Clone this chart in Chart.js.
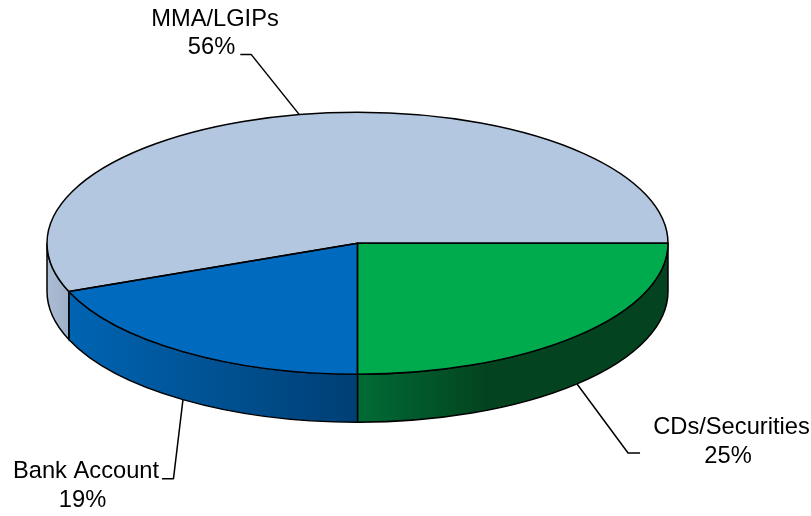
<!DOCTYPE html>
<html>
<head>
<meta charset="utf-8">
<style>
html,body{margin:0;padding:0;background:#fff}
#wrap{position:relative;width:811px;height:516px}
canvas{display:block}
</style>
<script src="https://cdn.jsdelivr.net/npm/chart.js@4"></script>
</head>
<body>
<div id="wrap"><canvas id="c" width="811" height="516"></canvas></div>
<script>
// Data
const categories = ['CDs/Securities', 'Bank Account', 'MMA/LGIPs'];
const shares = [25, 19, 56];

// Styles
const topColors = ['#00AB4E', '#006ABF', '#B3C7E0'];
const wallStops = [
  [[0, '#006C36'], [0.42, '#03431F'], [1, '#03431F']],
  [[0, '#0064B2'], [1, '#003F74']],
  [[0, '#ABBDD5'], [1, '#9FB0C8']]
];
const centerX = 357.5, centerY = 243.3, radiusX = 310.5, radiusY = 131, depth = 48;
const squash = radiusY / radiusX;
const edgeWidth = 1.5;
const leaderPaths = [
  {elbow: [51, 69], end: [63, 69]},
  {elbow: [-9.5, 79], end: [-21, 79]},
  {elbow: [-48, -60], end: [-59, -60]}
];
const labelSpots = [
  {x: 731.5, y1: 434, y2: 463},
  {x: 86, y1: 478, y2: 507},
  {x: 215, y1: 26, y2: 54}
];
const labelFont = '23.7px "Liberation Sans", Arial, sans-serif';

const fakePie3d = {
  id: 'fakePie3d',
  beforeDatasetsDraw(chart) {
    const ctx = chart.ctx;
    const arcs = chart.getDatasetMeta(0).data;
    arcs.forEach((arc, i) => {
      const a0 = Math.max(arc.startAngle, 0), a1 = Math.min(arc.endAngle, Math.PI);
      if (a1 <= a0) return;
      const xA = arc.x + radiusX * Math.cos(a0), xB = arc.x + radiusX * Math.cos(a1);
      const g = ctx.createLinearGradient(Math.min(xA, xB), 0, Math.max(xA, xB), 0);
      wallStops[i].forEach(s => g.addColorStop(s[0], s[1]));
      ctx.save();
      ctx.beginPath();
      ctx.ellipse(arc.x, arc.y, radiusX, radiusY, 0, a0, a1);
      ctx.ellipse(arc.x, arc.y + depth, radiusX, radiusY, 0, a1, a0, true);
      ctx.closePath();
      ctx.fillStyle = g;
      ctx.fill();
      ctx.strokeStyle = '#000';
      ctx.lineWidth = edgeWidth;
      ctx.stroke();
      ctx.restore();
    });
  },
  beforeDatasetDraw(chart) {
    const ctx = chart.ctx;
    const arc = chart.getDatasetMeta(0).data[0];
    ctx.save();
    ctx.translate(arc.x, arc.y);
    ctx.scale(1, squash);
    ctx.translate(-arc.x, -arc.y);
  },
  afterDatasetDraw(chart) {
    chart.ctx.restore();
  },
  afterDatasetsDraw(chart) {
    const ctx = chart.ctx;
    const arcs = chart.getDatasetMeta(0).data;
    ctx.save();
    ctx.strokeStyle = '#000';
    ctx.lineWidth = edgeWidth;
    ctx.lineJoin = 'round';
    arcs.forEach(arc => {
      ctx.beginPath();
      ctx.moveTo(arc.x, arc.y);
      ctx.ellipse(arc.x, arc.y, radiusX, radiusY, 0, arc.startAngle, arc.endAngle);
      ctx.closePath();
      ctx.stroke();
    });
    // Leader lines and labels
    arcs.forEach((arc, i) => {
      const mid = (arc.startAngle + arc.endAngle) / 2;
      const sx = arc.x + radiusX * Math.cos(mid);
      const sy = arc.y + radiusY * Math.sin(mid) + (Math.sin(mid) > 0 ? depth : 0);
      const p = leaderPaths[i];
      ctx.beginPath();
      ctx.moveTo(sx, sy);
      ctx.lineTo(sx + p.elbow[0], sy + p.elbow[1]);
      ctx.lineTo(sx + p.end[0], sy + p.end[1]);
      ctx.stroke();
      const spot = labelSpots[i];
      ctx.font = labelFont;
      ctx.fillStyle = '#000';
      ctx.textAlign = 'center';
      ctx.textBaseline = 'alphabetic';
      ctx.fillText(categories[i], spot.x, spot.y1);
      ctx.fillText(shares[i] + '%', spot.x - 3.5, spot.y2);
    });
    ctx.restore();
  }
};

new Chart(document.getElementById('c'), {
  type: 'pie',
  data: {
    labels: categories,
    datasets: [{
      data: shares,
      backgroundColor: topColors,
      borderWidth: 0,
      clip: false,
      radius: radiusX
    }]
  },
  options: {
    responsive: false,
    animation: false,
    rotation: 90,
    layout: {padding: {left: 0, top: 0, right: 811 - 2 * centerX, bottom: 516 - 2 * centerY}},
    plugins: {legend: {display: false}, tooltip: {enabled: false}, title: {display: false}}
  },
  plugins: [fakePie3d]
});
</script>
</body>
</html>
